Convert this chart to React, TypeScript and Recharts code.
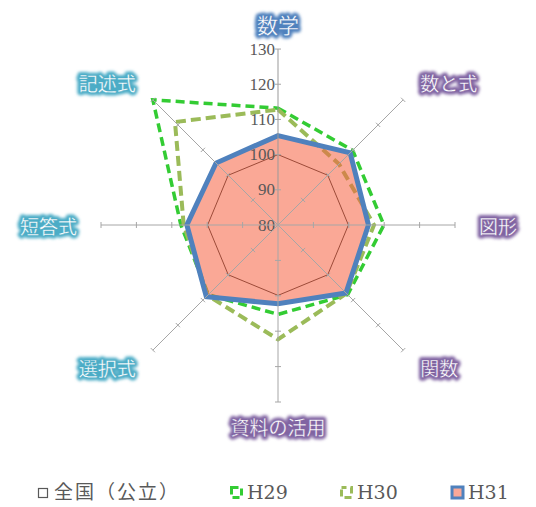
import React from "react";
import { RadarChart, Radar, PolarAngleAxis, PolarRadiusAxis, Legend } from "recharts";

const subjects = ["数学", "数と式", "図形", "関数", "資料の活用", "選択式", "短答式", "記述式"];
const national = [100, 100, 100, 100, 100, 100, 100, 100];
const h29 = [113.2, 110, 110.1, 108, 105.4, 108, 107.6, 130.3];
const h30 = [112.8, 104.5, 107.3, 107.5, 112.5, 108.3, 106.8, 121.4];
const h31 = [105.4, 109, 105.7, 107.3, 102.4, 108.8, 105.9, 104.9];
const radiusTicks = [80, 90, 100, 110, 120, 130];
const spokeAngles = [90, 45, 0, -45, -90, -135, 180, 135];

const data = subjects.map((subject, i) => ({
  subject,
  national: national[i],
  h29: h29[i],
  h30: h30[i],
  h31: h31[i],
}));

const CX = 270;
const CY = 217;
const OUTER = 177;

const labelColor = (label: string) => {
  if (label === "数学") return "#4f81bd";
  if (["選択式", "短答式", "記述式"].includes(label)) return "#4bacc6";
  return "#8064a2";
};

function AngleTick(props: any) {
  const { x, y, payload, index } = props;
  const label = payload.value as string;
  const a = Math.atan2(CY - y, x - CX);
  const cos = Math.cos(a);
  const sin = Math.sin(a);
  const dist = label === "数学" ? 201 : 201;
  const tx = CX + cos * dist;
  const ty = CY - sin * dist;
  const anchor = cos > 0.1 ? "start" : cos < -0.1 ? "end" : "middle";
  const color = labelColor(label);
  const size = label === "数学" ? 21 : 19;
  const id = `glow-${index}`;
  const common = {
    x: tx,
    y: ty,
    textAnchor: anchor,
    dominantBaseline: "central",
    fontSize: size,
    fontFamily: "'Noto Sans CJK JP', sans-serif",
  } as any;
  return (
    <g>
      <defs>
        <filter id={id} x="-30%" y="-60%" width="160%" height="220%">
          <feGaussianBlur stdDeviation="1.6" />
        </filter>
      </defs>
      <text {...common} fill={color} stroke={color} strokeWidth={6} strokeLinejoin="round" filter={`url(#${id})`}>
        {label}
      </text>
      <text {...common} fill="#ffffff" stroke={color} strokeWidth={0.3}>
        {label}
      </text>
    </g>
  );
}

function makeRadiusTick(angleDeg: number, showLabel: boolean) {
  return (props: any) => {
    const { x, y, payload } = props;
    const rad = (angleDeg * Math.PI) / 180;
    const px = Math.sin(rad) * 3;
    const py = Math.cos(rad) * 3;
    return (
      <g>
        {payload.value !== 80 && (
          <line x1={x - px} y1={y - py} x2={x + px} y2={y + py} stroke="#a6a6a6" strokeWidth={1} />
        )}
        {showLabel && (
          <text
            x={x - 3}
            y={y}
            textAnchor="end"
            dominantBaseline="central"
            fontSize={17}
            fontFamily="'Liberation Serif', serif"
            fill="#595959"
          >
            {payload.value}
          </text>
        )}
      </g>
    );
  };
}

const legendItems = [
  { key: "全国（公立）", left: 28, icon: "national", spacing: 2 },
  { key: "H29", left: 221, icon: "h29", spacing: 0 },
  { key: "H30", left: 331, icon: "h30", spacing: 0 },
  { key: "H31", left: 442, icon: "h31", spacing: 0 },
];

function LegendIcon({ kind }: { kind: string }) {
  return (
    <svg width={15} height={15} style={{ display: "block" }}>
      {kind === "national" && <rect x={2.5} y={3.5} width={9} height={9} fill="none" stroke="#595959" strokeWidth={1.2} />}
      {kind === "h29" && (
        <rect x={2.5} y={2.5} width={10} height={10} fill="none" stroke="#33cc33" strokeWidth={3} strokeDasharray="7 4" />
      )}
      {kind === "h30" && (
        <rect x={2.5} y={2.5} width={10} height={10} fill="none" stroke="#9bbb59" strokeWidth={3} strokeDasharray="7 4" strokeDashoffset={-9} />
      )}
      {kind === "h31" && <rect x={2} y={2} width={11} height={11} fill="#f9a898" stroke="#4f81bd" strokeWidth={3} />}
    </svg>
  );
}

function renderLegend() {
  return (
    <div style={{ position: "relative", width: 528, height: 26 }}>
      {legendItems.map((it) => (
        <div
          key={it.key}
          style={{
            position: "absolute",
            left: it.left,
            top: 0,
            display: "flex",
            alignItems: "center",
            gap: 3,
            fontFamily: "'DejaVu Serif', 'Noto Sans CJK JP', serif",
            fontSize: 19,
            letterSpacing: it.spacing,
            color: "#595959",
            lineHeight: "26px",
          }}
        >
          <LegendIcon kind={it.icon} />
          <span>{it.key}</span>
        </div>
      ))}
    </div>
  );
}

export default function App() {
  return (
    <RadarChart
      width={528}
      height={499}
      data={data}
      cx={CX}
      cy={CY}
      outerRadius={OUTER}
      margin={{ top: 0, right: 0, bottom: 0, left: 0 }}
    >
      <PolarAngleAxis dataKey="subject" tick={<AngleTick />} axisLine={false} tickLine={false} />
      {spokeAngles.map((ang, i) => (
        <PolarRadiusAxis
          key={ang}
          radiusAxisId={i}
          angle={ang}
          domain={[80, 130]}
          type="number"
          ticks={radiusTicks as any}
          tickCount={6}
          orientation="left"
          axisLine={{ stroke: i === 0 ? "#999999" : "#a6a6a6", strokeWidth: 1 }}
          tick={makeRadiusTick(ang, i === 0)}
        />
      ))}
      {spokeAngles.slice(1).map((ang, i) => (
        <Radar
          key={`spoke-${ang}`}
          dataKey="national"
          radiusAxisId={i + 1}
          stroke="none"
          fill="none"
          fillOpacity={0}
          legendType="none"
          isAnimationActive={false}
        />
      ))}
      <Radar
        name="全国（公立）"
        dataKey="national"
        radiusAxisId={0}
        stroke="#303030"
        strokeWidth={1}
        fill="none"
        fillOpacity={0}
        isAnimationActive={false}
      />
      <Radar
        name="H29"
        dataKey="h29"
        radiusAxisId={0}
        stroke="#33cc33"
        strokeWidth={3.5}
        strokeDasharray="9 5"
        fill="none"
        fillOpacity={0}
        isAnimationActive={false}
      />
      <Radar
        name="H30"
        dataKey="h30"
        radiusAxisId={0}
        stroke="#9bbb59"
        strokeWidth={4}
        strokeDasharray="10 5"
        fill="none"
        fillOpacity={0}
        isAnimationActive={false}
      />
      <Radar
        name="H31"
        dataKey="h31"
        radiusAxisId={0}
        stroke="#4f81bd"
        strokeWidth={5}
        fill="#f56140"
        fillOpacity={0.55}
        isAnimationActive={false}
      />
      <Legend content={renderLegend} wrapperStyle={{ position: "absolute", left: 0, top: 471, width: 528 }} />
    </RadarChart>
  );
}
